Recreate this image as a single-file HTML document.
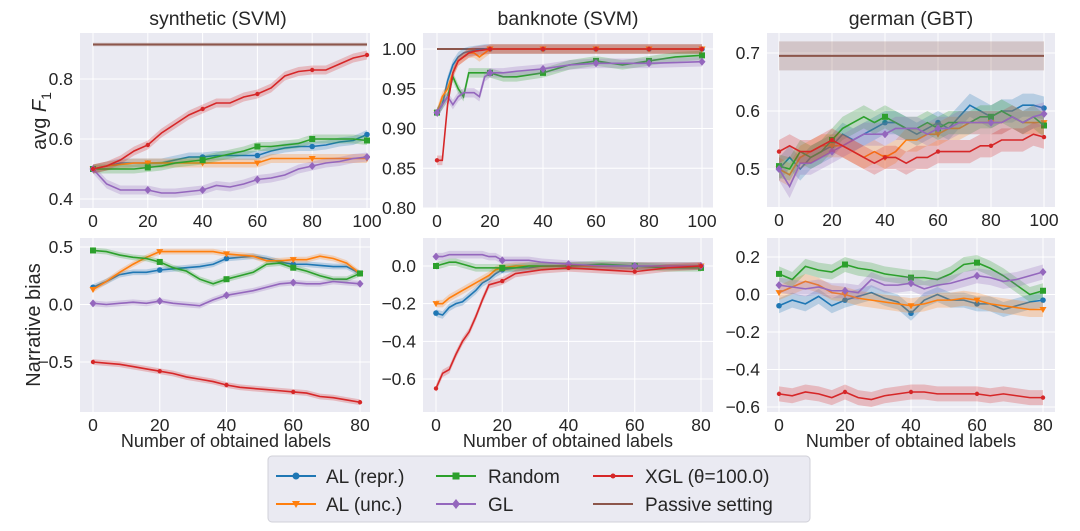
<!DOCTYPE html>
<html><head><meta charset="utf-8">
<style>
body{margin:0;background:#fff;}
svg{display:block;font-family:"Liberation Sans","DejaVu Sans",sans-serif;}
</style></head>
<body>
<svg id="fig" width="1080" height="531" viewBox="0 0 1080 531" xmlns="http://www.w3.org/2000/svg">
<g id="plots"></g>
<text x="218" y="25" font-size="19.5" text-anchor="middle" fill="#262626">synthetic (SVM)</text>
<text x="568" y="25" font-size="19.5" text-anchor="middle" fill="#262626">banknote (SVM)</text>
<text x="911" y="25" font-size="19.5" text-anchor="middle" fill="#262626">german (GBT)</text>
<text transform="translate(46,121) rotate(-90)" font-size="20" text-anchor="middle" fill="#262626">avg <tspan font-style="italic">F</tspan><tspan font-size="14" dy="5">1</tspan></text>
<text transform="translate(40,325) rotate(-90)" font-size="20" text-anchor="middle" fill="#262626">Narrative bias</text>
<text x="226" y="447" font-size="18" text-anchor="middle" fill="#262626">Number of obtained labels</text>
<text x="568" y="447" font-size="18" text-anchor="middle" fill="#262626">Number of obtained labels</text>
<text x="911" y="447" font-size="18" text-anchor="middle" fill="#262626">Number of obtained labels</text>
<g>
<rect x="268" y="456" width="542" height="66" rx="4" fill="#eaeaf2" stroke="#d0d0d8"/>
<g><line x1="276" y1="476" x2="316" y2="476" stroke="#1f77b4" stroke-width="2"/><circle cx="296" cy="476" r="3.5" fill="#1f77b4"/><text x="326" y="483" font-size="19" fill="#262626">AL (repr.)</text></g>
<g><line x1="276" y1="504" x2="316" y2="504" stroke="#ff7f0e" stroke-width="2"/><path d="M292,501 L300,501 L296,508Z" fill="#ff7f0e"/><text x="326" y="511" font-size="19" fill="#262626">AL (unc.)</text></g>
<g><line x1="436" y1="476" x2="476" y2="476" stroke="#2ca02c" stroke-width="2"/><rect x="452.5" y="472.5" width="7" height="7" fill="#2ca02c"/><text x="488" y="483" font-size="19" fill="#262626">Random</text></g>
<g><line x1="436" y1="504" x2="476" y2="504" stroke="#9467bd" stroke-width="2"/><path d="M456,499 L460,504 L456,509 L452,504Z" fill="#9467bd"/><text x="488" y="511" font-size="19" fill="#262626">GL</text></g>
<g><line x1="593" y1="476" x2="633" y2="476" stroke="#d62728" stroke-width="2"/><circle cx="613" cy="476" r="2.5" fill="#d62728"/><text x="645" y="483" font-size="19" fill="#262626">XGL (θ=100.0)</text></g>
<g><line x1="593" y1="504" x2="633" y2="504" stroke="#8c564b" stroke-width="2"/><text x="645" y="511" font-size="19" fill="#262626">Passive setting</text></g>
</g>
</svg>
<script>
// ---- data ----
const xTop1 = [0,5,10,15,20,25,30,35,40,45,50,55,60,65,70,75,80,85,90,95,100];
const syn_alr = [.50,.51,.52,.52,.52,.52,.53,.54,.54,.545,.545,.545,.545,.56,.57,.575,.575,.58,.59,.595,.615];
const syn_alu = [.50,.51,.515,.52,.52,.52,.52,.52,.52,.52,.52,.52,.52,.535,.535,.535,.535,.535,.535,.535,.535];
const syn_rnd = [.50,.50,.50,.50,.505,.51,.52,.525,.53,.54,.55,.56,.575,.575,.58,.585,.60,.60,.60,.60,.595];
const syn_gl  = [.50,.45,.43,.43,.43,.42,.42,.425,.43,.445,.44,.45,.465,.47,.48,.50,.51,.52,.525,.535,.54];
const syn_xgl = [.50,.51,.53,.56,.58,.62,.65,.68,.70,.72,.72,.74,.75,.77,.81,.825,.83,.83,.85,.87,.88];
const syn_pas = [.915,.915];
const xTop2 = [0,2,4,6,8,10,12,14,16,18,20,25,30,40,50,60,70,80,90,100];
const bank_alr = [.92,.93,.96,.98,.99,.995,.997,.998,.999,1,1,1,1,1,1,1,1,1,1,1];
const bank_alu = [.92,.94,.95,.97,.985,.99,.995,.995,.99,.995,1,1,1,1,1,1,1,1,1,1];
const bank_rnd = [.92,.93,.94,.965,.95,.94,.97,.97,.97,.97,.97,.965,.965,.97,.98,.985,.98,.985,.99,.992];
const bank_gl  = [.92,.93,.94,.93,.94,.945,.945,.945,.94,.965,.97,.97,.972,.975,.98,.982,.982,.982,.983,.984];
const bank_xgl = [.86,.86,.93,.97,.985,.99,.995,.997,.998,.999,1,1,1,1,1,1,1,1,1,1];
const bank_pas = [1.0,1.0];
const xTop3 = [0,4,8,12,16,20,24,28,32,36,40,44,48,52,56,60,64,68,72,76,80,84,88,92,96,100];
const ger_alr = [.50,.52,.50,.52,.53,.54,.56,.55,.56,.57,.58,.58,.57,.56,.57,.58,.57,.59,.61,.60,.59,.60,.60,.61,.61,.605];
const ger_alu = [.50,.49,.52,.53,.54,.54,.54,.53,.52,.53,.52,.53,.55,.55,.56,.56,.57,.57,.58,.58,.58,.58,.59,.58,.58,.58];
const ger_rnd = [.505,.50,.53,.52,.53,.55,.57,.58,.59,.58,.59,.58,.57,.57,.58,.57,.58,.58,.58,.59,.59,.60,.59,.58,.59,.575];
const ger_gl  = [.50,.47,.51,.51,.52,.53,.54,.55,.56,.56,.56,.57,.57,.57,.56,.57,.57,.58,.58,.58,.58,.58,.59,.58,.59,.595];
const ger_xgl = [.53,.54,.53,.53,.54,.55,.54,.53,.52,.51,.52,.52,.51,.52,.52,.53,.53,.53,.53,.54,.54,.55,.55,.55,.56,.555];
const ger_pas = [.695,.695];
const xBot1 = [0,4,8,12,16,20,24,28,32,36,40,44,48,52,56,60,64,68,72,76,80];
const bsyn_alr = [.15,.20,.26,.28,.28,.30,.31,.32,.33,.35,.40,.41,.42,.40,.37,.35,.35,.34,.33,.33,.27];
const bsyn_alu = [.13,.20,.28,.35,.41,.46,.46,.46,.46,.46,.44,.43,.42,.38,.38,.39,.39,.42,.40,.36,.27];
const bsyn_rnd = [.47,.46,.43,.41,.40,.37,.32,.29,.22,.18,.22,.25,.28,.35,.36,.32,.29,.25,.22,.22,.27];
const bsyn_gl  = [.01,.00,.01,.02,.01,.03,.01,.00,-.01,.04,.08,.10,.12,.15,.18,.19,.18,.18,.20,.19,.18];
const bsyn_xgl = [-.50,-.51,-.52,-.54,-.56,-.58,-.60,-.63,-.65,-.67,-.70,-.72,-.73,-.74,-.75,-.76,-.77,-.80,-.81,-.83,-.85];
const xBot2 = [0,2,4,6,8,10,12,14,16,18,20,24,28,32,40,50,60,70,80];
const bbank_alr = [-.25,-.26,-.22,-.20,-.19,-.16,-.13,-.09,-.07,-.04,-.02,-.01,-.01,0,0,0,0,0,0];
const bbank_alu = [-.20,-.20,-.17,-.15,-.13,-.11,-.09,-.07,-.05,-.02,-.01,0,0,0,0,0,0,0,0];
const bbank_rnd = [0,.01,.02,.02,.01,.00,-.01,-.01,-.01,-.01,-.01,-.01,0,0,0,.01,0,-.01,-.01];
const bbank_gl  = [.05,.05,.06,.06,.06,.06,.06,.06,.05,.05,.03,.03,.03,.02,.01,.00,0,0,0];
const bbank_xgl = [-.65,-.57,-.55,-.47,-.40,-.35,-.27,-.18,-.10,-.09,-.08,-.04,-.03,-.02,-.01,-.02,-.03,-.01,0];
const xBot3 = [0,4,8,12,16,20,24,28,32,36,40,44,48,52,56,60,64,68,72,76,80];
const bger_alr = [-.06,-.03,-.05,-.01,-.06,-.03,-.01,.01,-.02,-.04,-.10,-.03,0,-.03,-.03,-.05,-.05,-.08,-.06,-.04,-.03];
const bger_alu = [.01,.04,.07,.05,.01,.00,-.02,-.03,-.04,-.05,-.06,-.05,-.03,-.03,-.02,-.03,-.05,-.06,-.07,-.08,-.08];
const bger_rnd = [.11,.08,.15,.13,.12,.16,.14,.13,.11,.10,.09,.09,.08,.11,.16,.17,.14,.10,.05,.00,.02];
const bger_gl  = [.05,.04,.03,.04,.02,.02,.01,.08,.05,.05,.06,.03,.05,.06,.08,.10,.09,.07,.08,.10,.12];
const bger_xgl = [-.53,-.54,-.52,-.53,-.55,-.52,-.55,-.56,-.54,-.53,-.52,-.52,-.53,-.53,-.53,-.53,-.54,-.53,-.54,-.55,-.55];
const xTicksTop = [0,20,40,60,80,100];
const xTicksBot = [0,20,40,60,80];
const yTicks1 = ["0.4","0.6","0.8"];
const yTicks2 = ["0.80","0.85","0.90","0.95","1.00"];
const yTicks3 = ["0.5","0.6","0.7"];
const yTicks4 = ["-0.5","0.0","0.5"];
const yTicks5 = ["-0.6","-0.4","-0.2","0.0"];
const yTicks6 = ["-0.6","-0.4","-0.2","0.0","0.2"];

const C = {alr:"#1f77b4",alu:"#ff7f0e",rnd:"#2ca02c",gl:"#9467bd",xgl:"#d62728",pas:"#8c564b"};
const NS = "http://www.w3.org/2000/svg";
const root = document.getElementById('plots');
function mk(tag, attrs, parent){const e=document.createElementNS(NS,tag);for(const k in attrs)e.setAttribute(k,attrs[k]);parent.appendChild(e);return e;}

const panels = [
 {id:"synthetic-f1",L:80,R:370,T:33,B:208,x0:93,x1:367,xmax:100,ymin:0.4,ymax:0.8,py0:199,py1:79,xt:xTicksTop,yt:yTicks1,xs:xTop1,band:.015,
  s:{alr:syn_alr,alu:syn_alu,rnd:syn_rnd,gl:syn_gl,xgl:syn_xgl},pas:syn_pas,pband:.006},
 {id:"banknote-f1",L:423,R:713,T:33,B:208,x0:437,x1:702,xmax:100,ymin:0.80,ymax:1.00,py0:208,py1:49,xt:xTicksTop,yt:yTicks2,xs:xTop2,band:.006,
  s:{alr:bank_alr,alu:bank_alu,rnd:bank_rnd,gl:bank_gl,xgl:bank_xgl},pas:bank_pas,pband:.001},
 {id:"german-f1",L:767,R:1055,T:33,B:207,x0:779,x1:1044,xmax:100,ymin:0.5,ymax:0.7,py0:169,py1:53,xt:xTicksTop,yt:yTicks3,xs:xTop3,band:.02,
  s:{alr:ger_alr,alu:ger_alu,rnd:ger_rnd,gl:ger_gl,xgl:ger_xgl},pas:ger_pas,pband:.025},
 {id:"synthetic-bias",L:80,R:370,T:238,B:412,x0:93,x1:360,xmax:80,ymin:-0.5,ymax:0.5,py0:362,py1:247,xt:xTicksBot,yt:yTicks4,xs:xBot1,band:.025,
  s:{alr:bsyn_alr,alu:bsyn_alu,rnd:bsyn_rnd,gl:bsyn_gl,xgl:bsyn_xgl}},
 {id:"banknote-bias",L:423,R:713,T:238,B:412,x0:436,x1:701,xmax:80,ymin:-0.6,ymax:0.0,py0:379,py1:266,xt:xTicksBot,yt:yTicks5,xs:xBot2,band:.02,
  s:{alr:bbank_alr,alu:bbank_alu,rnd:bbank_rnd,gl:bbank_gl,xgl:bbank_xgl}},
 {id:"german-bias",L:767,R:1055,T:238,B:412,x0:779,x1:1043,xmax:80,ymin:-0.6,ymax:0.2,py0:407,py1:257,xt:xTicksBot,yt:yTicks6,xs:xBot3,band:.04,
  s:{alr:bger_alr,alu:bger_alu,rnd:bger_rnd,gl:bger_gl,xgl:bger_xgl}}
];

function marker(g,key,x,y){
  const col=C[key];let m;
  if(key==="alr") m=mk('circle',{cx:x,cy:y,r:2.8,fill:col},g);
  else if(key==="alu") m=mk('path',{d:`M${x-3.5},${y-2.5} L${x+3.5},${y-2.5} L${x},${y+3.5}Z`,fill:col},g);
  else if(key==="rnd") m=mk('rect',{x:x-3,y:y-3,width:6,height:6,fill:col},g);
  else if(key==="gl") m=mk('path',{d:`M${x},${y-4} L${x+3.5},${y} L${x},${y+4} L${x-3.5},${y}Z`,fill:col},g);
  else m=mk('circle',{cx:x,cy:y,r:2.2,fill:col},g);
  
  
}

panels.forEach(p=>{
  const g=mk('g',{},root);
  
  
  const sx=v=>p.x0+(p.x1-p.x0)*v/p.xmax;
  const sy=v=>p.py0+(p.py1-p.py0)*(v-p.ymin)/(p.ymax-p.ymin);
  const bg=mk('rect',{x:p.L,y:p.T,width:p.R-p.L,height:p.B-p.T,fill:"#eaeaf2"},g);
  
  
  p.xt.forEach(t=>{
    const X=sx(t);
    const gl=mk('line',{x1:X,x2:X,y1:p.T,y2:p.B,stroke:"#fff","stroke-width":1},g);
    
    
    const tl=mk('text',{x:X,y:p.B+19,"font-size":17.5,"text-anchor":"middle",fill:"#262626"},g);
    tl.textContent=t;
    
    
  });
  p.yt.forEach(t=>{
    const Y=sy(parseFloat(t));
    const gl=mk('line',{x1:p.L,x2:p.R,y1:Y,y2:Y,stroke:"#fff","stroke-width":1},g);
    
    
    const tl=mk('text',{x:p.L-7,y:Y+6,"font-size":17.5,"text-anchor":"end",fill:"#262626"},g);
    tl.textContent=t.replace('-','\u2212');
    
    
  });
  const clipId='clip-'+p.id;
  const cp=mk('clipPath',{id:clipId},g);
  mk('rect',{x:p.L,y:p.T,width:p.R-p.L,height:p.B-p.T},cp);
  const lg=mk('g',{'clip-path':`url(#${clipId})`},g);
  
  
  if(p.pas){
    const y=sy(p.pas[0]);
    const b=mk('rect',{x:sx(0),y:sy(p.pas[0]+p.pband),width:sx(100)-sx(0),height:sy(p.pas[0]-p.pband)-sy(p.pas[0]+p.pband),fill:C.pas,opacity:.25},lg);
    
    
    const l=mk('line',{x1:sx(0),x2:sx(100),y1:y,y2:y,stroke:C.pas,"stroke-width":2},lg);
    
    
  }
  ["alr","alu","rnd","gl","xgl"].forEach(k=>{
    const v=p.s[k];
    const up=v.map((y,i)=>sx(p.xs[i])+','+sy(y+p.band)).join(' ');
    const dn=v.map((y,i)=>sx(p.xs[i])+','+sy(y-p.band)).reverse().join(' ');
    const band=mk('polygon',{points:up+' '+dn,fill:C[k],opacity:.25},lg);
    
    
    const line=mk('polyline',{points:v.map((y,i)=>sx(p.xs[i])+','+sy(y)).join(' '),fill:"none",stroke:C[k],"stroke-width":1.6},lg);
    
    
    v.forEach((y,i)=>{ if(p.xs[i]%20===0) marker(lg,k,sx(p.xs[i]),sy(y)); });
  });
});
</script>
</body></html>
